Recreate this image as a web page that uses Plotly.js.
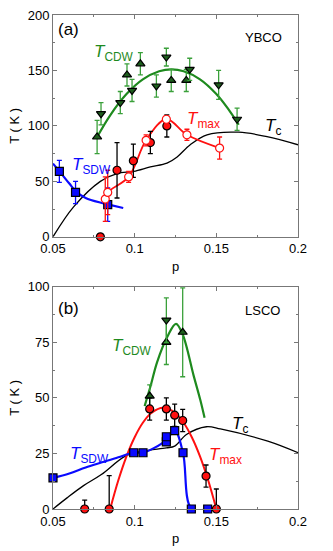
<!DOCTYPE html>
<html><head><meta charset="utf-8">
<script src="https://cdn.plot.ly/plotly-3.0.1.min.js"></script>
<style>html,body{margin:0;padding:0;background:#fff}#chart{width:333px;height:551px}</style>
</head><body><div id="chart"></div>
<script>
// ===== Panel (a) YBCO =====
const a_cdwUp_p = [0.077, 0.0953, 0.1035, 0.1224, 0.1316];
const a_cdwUp_T = [90, 146, 156, 141, 141];
const a_cdwUp_e = [15, 10, 10, 10, 10];
const a_cdwDn_p = [0.0794, 0.0912, 0.0984, 0.1133, 0.1194, 0.1337, 0.1514, 0.1627];
const a_cdwDn_T = [111, 121, 132, 136, 162, 151, 137, 106];
const a_cdwDn_e = [10, 10, 10, 10, 8, 10, 13, 10];
const a_cdwFit_p = [0.077, 0.085, 0.095, 0.105, 0.115, 0.1225, 0.13, 0.14, 0.15, 0.16, 0.1637];
const a_cdwFit_T = [90, 109.6, 128.7, 142, 149.3, 151, 149.3, 142, 128.7, 109.6, 101];
const a_tmaxOpen_p = [0.082, 0.0835, 0.0963, 0.107, 0.1194, 0.132, 0.152];
const a_tmaxOpen_T = [34, 40, 54, 87, 106, 92, 80];
const a_tmaxOpen_e = [20, 20, 5, 5, 3, 5, 10];
const a_tmaxFill_p = [0.079, 0.0892, 0.0992, 0.1096, 0.1197];
const a_tmaxFill_T = [0, 60, 68.5, 85, 100];
const a_tmaxFill_e = [0, 25, 15, 10, 10];
const a_sdw_p = [0.0539, 0.0638, 0.0835];
const a_sdw_T = [59, 40, 29];
const a_sdw_e = [10, 10, 15];
const a_sdwFit_p = [0.05, 0.054, 0.06, 0.064, 0.07, 0.08, 0.0835, 0.093];
const a_sdwFit_T = [66, 59, 48, 41, 35, 30.5, 29.3, 26];
const a_tc_p = [0.05, 0.0626, 0.079, 0.0892, 0.0994, 0.1096, 0.1198, 0.126, 0.134, 0.1443, 0.1637, 0.181, 0.2];
const a_tc_T = [0, 27, 50, 57, 59, 63, 66.4, 72, 83, 92, 94.3, 90.3, 83];

// ===== Panel (b) LSCO =====
const b_cdwUp_p = [0.1092, 0.1194, 0.1294];
const b_cdwUp_T = [50.8, 75, 79.5];
const b_cdwUp_e = [5, 10, 20];
const b_cdwDn_p = [0.1194];
const b_cdwDn_T = [85];
const b_cdwDn_e = [10];
const b_cdwFit_p = [0.1061, 0.11, 0.1137, 0.12, 0.1253, 0.1294, 0.1361, 0.1402, 0.1428];
const b_cdwFit_T = [46.3, 56, 66, 77.5, 83.3, 78.5, 60, 49, 41];
const b_tmax_p = [0.0694, 0.0844, 0.1092, 0.1194, 0.1245, 0.1294, 0.1437, 0.15];
const b_tmax_T = [0, 0, 45, 45, 42.2, 39.8, 14.8, 0];
const b_tmax_e = [4, 15, 5, 5, 5, 5, 5, 9];
const b_tmaxFit_p = [0.085, 0.09, 0.095, 0.1, 0.105, 0.11, 0.1175, 0.125, 0.13, 0.135, 0.14, 0.145, 0.15];
const b_tmaxFit_T = [0, 12.9, 23.7, 32.3, 38.8, 43.1, 45.5, 43.1, 38.8, 32.3, 23.7, 12.9, 0];
const b_sdw_p = [0.05, 0.0994, 0.1051, 0.1194, 0.1194, 0.1245, 0.1296, 0.1347, 0.1447];
const b_sdw_T = [14, 25.3, 25.3, 30.2, 32.5, 35.3, 25.3, 0, 0];
const b_sdwFit_p = [0.05, 0.06, 0.07, 0.08, 0.09, 0.0994, 0.1051, 0.112, 0.1194, 0.1245, 0.1296, 0.1347, 0.1447];
const b_sdwFit_T = [14, 16, 18.7, 21, 23.3, 25.3, 25.4, 27.5, 31, 35.3, 25.3, 0.3, 0];
const b_tc_p = [0.05, 0.0586, 0.0687, 0.0796, 0.0943, 0.1051, 0.1194, 0.1245, 0.1317, 0.1439, 0.1525, 0.1815, 0.2];
const b_tc_T = [0, 5, 10.5, 15.5, 23.8, 26, 27.5, 28.3, 33.5, 37, 36, 30.5, 25.3];

const GREEN = '#1e8a1e', GREEN_ERR = '#3aa03a', GREEN_FILL = '#1d5e1d';
const RED = '#ff1010', BLUE = '#0a0aff';

function line(x, y, color, w, xa, ya, shape) {
  return {x, y, xaxis: xa, yaxis: ya, mode: 'lines', type: 'scatter', hoverinfo: 'skip',
    line: {color, width: w, shape: shape || 'spline', smoothing: 1}};
}
function pts(x, y, e, sym, fill, edge, errColor, xa, ya, size) {
  const t = {x, y, xaxis: xa, yaxis: ya, mode: 'markers', type: 'scatter', cliponaxis: false,
    marker: {symbol: sym, size: size || 8, color: fill, line: {color: edge, width: 1.2}}};
  if (e) t.error_y = {type: 'data', array: e, visible: true, color: errColor, thickness: 1.3, width: 2.5};
  return t;
}

const data = [
  // panel a
  line(a_tc_p, a_tc_T, '#000', 1.3, 'x', 'y'),
  line(a_cdwFit_p, a_cdwFit_T, GREEN, 2.2, 'x', 'y'),
  line(a_sdwFit_p, a_sdwFit_T, BLUE, 2.2, 'x', 'y'),
  line(a_tmaxOpen_p, a_tmaxOpen_T, RED, 1.8, 'x', 'y'),
  pts(a_cdwUp_p, a_cdwUp_T, a_cdwUp_e, 'triangle-up', GREEN_FILL, '#000', GREEN_ERR, 'x', 'y'),
  pts(a_cdwDn_p, a_cdwDn_T, a_cdwDn_e, 'triangle-down', GREEN_FILL, '#000', GREEN_ERR, 'x', 'y'),
  pts(a_sdw_p, a_sdw_T, a_sdw_e, 'square', BLUE, '#000', BLUE, 'x', 'y'),
  pts(a_tmaxFill_p, a_tmaxFill_T, a_tmaxFill_e, 'circle', RED, '#000', '#000', 'x', 'y'),
  pts(a_tmaxOpen_p, a_tmaxOpen_T, a_tmaxOpen_e, 'circle', '#fff', RED, RED, 'x', 'y'),
  // panel b
  line(b_tc_p, b_tc_T, '#000', 1.3, 'x2', 'y2'),
  line(b_cdwFit_p, b_cdwFit_T, GREEN, 2.2, 'x2', 'y2'),
  line(b_tmaxFit_p, b_tmaxFit_T, RED, 2.0, 'x2', 'y2'),
  line(b_sdwFit_p, b_sdwFit_T, BLUE, 2.2, 'x2', 'y2'),
  pts(b_cdwUp_p, b_cdwUp_T, b_cdwUp_e, 'triangle-up', GREEN_FILL, '#000', GREEN_ERR, 'x2', 'y2'),
  pts(b_cdwDn_p, b_cdwDn_T, b_cdwDn_e, 'triangle-down', GREEN_FILL, '#000', GREEN_ERR, 'x2', 'y2'),
  pts(b_tmax_p, b_tmax_T, b_tmax_e, 'circle', RED, '#000', '#000', 'x2', 'y2'),
  pts(b_sdw_p, b_sdw_T, null, 'square', BLUE, '#000', BLUE, 'x2', 'y2'),
];
data.forEach(d => d.showlegend = false);

const F = 'Liberation Sans, Arial, sans-serif';
function xax(anchor) {
  return {anchor, range: [0.05, 0.2], tickvals: [0.05, 0.1, 0.15, 0.2], ticktext: ['0.05', '0.1', '0.15', '0.2'],
    ticks: 'inside', ticklen: 4, tickcolor: '#777', showline: true, linecolor: '#777', linewidth: 1, mirror: 'ticks',
    showgrid: false, zeroline: false, tickfont: {family: F, size: 13, color: '#000'},
    minor: {dtick: 0.025, tick0: 0.05, ticks: 'inside', ticklen: 2, tickcolor: '#777', showgrid: false},
    title: {text: 'p', font: {family: F, size: 13, color: '#000'}, standoff: 6}, automargin: false};
}
function yax(anchor, domain, range, dtick, minor) {
  return {anchor, domain, range, dtick, tick0: 0,
    ticks: 'inside', ticklen: 4, tickcolor: '#777', showline: true, linecolor: '#777', linewidth: 1, mirror: 'ticks',
    showgrid: false, zeroline: false, tickfont: {family: F, size: 13, color: '#000'},
    minor: {dtick: minor, ticks: 'inside', ticklen: 2, tickcolor: '#777', showgrid: false},
    title: {text: 'T ( K )', font: {family: F, size: 13, color: '#000'}, standoff: 5}, automargin: false};
}

function ann(text, x, y, xref, yref, color, size) {
  return {text, x, y, xref, yref, xanchor: 'left', yanchor: 'middle', showarrow: false,
    font: {family: F, size: size, color}};
}
const annotations = [
  ann('(a)', 0.0518, 186.5, 'x', 'y', '#000', 17),
  ann('YBCO', 0.1666, 180, 'x', 'y', '#000', 13),
  ann('<i>T</i><sub>CDW</sub>', 0.0741, 166, 'x', 'y', GREEN, 17),
  ann('<i>T</i><sub>max</sub>', 0.131, 105, 'x', 'y', RED, 17),
  ann('<i>T</i><sub>c</sub>', 0.1787, 99, 'x', 'y', '#000', 17),
  ann('<i>T</i><sub>SDW</sub>', 0.0606, 64, 'x', 'y', BLUE, 17),
  ann('(b)', 0.0518, 90.2, 'x2', 'y2', '#000', 17),
  ann('LSCO', 0.1666, 89.3, 'x2', 'y2', '#000', 13),
  ann('<i>T</i><sub>CDW</sub>', 0.0851, 73, 'x2', 'y2', GREEN, 17),
  ann('<i>T</i><sub>c</sub>', 0.1586, 38, 'x2', 'y2', '#000', 17),
  ann('<i>T</i><sub>max</sub>', 0.1445, 24, 'x2', 'y2', RED, 17),
  ann('<i>T</i><sub>SDW</sub>', 0.0594, 24.5, 'x2', 'y2', BLUE, 17),
];

const layout = {
  width: 333, height: 551, margin: {l: 53, r: 35, t: 15, b: 42},
  paper_bgcolor: '#fff', plot_bgcolor: '#fff', showlegend: false,
  font: {family: F, color: '#000'},
  xaxis: xax('y'),
  yaxis: yax('x', [0.551, 1], [0, 200], 50, 25),
  xaxis2: xax('y2'),
  yaxis2: yax('x2', [0, 0.45], [0, 100], 25, 12.5),
  annotations
};
Plotly.newPlot('chart', data, layout, {staticPlot: true, displayModeBar: false});
</script></body></html>
